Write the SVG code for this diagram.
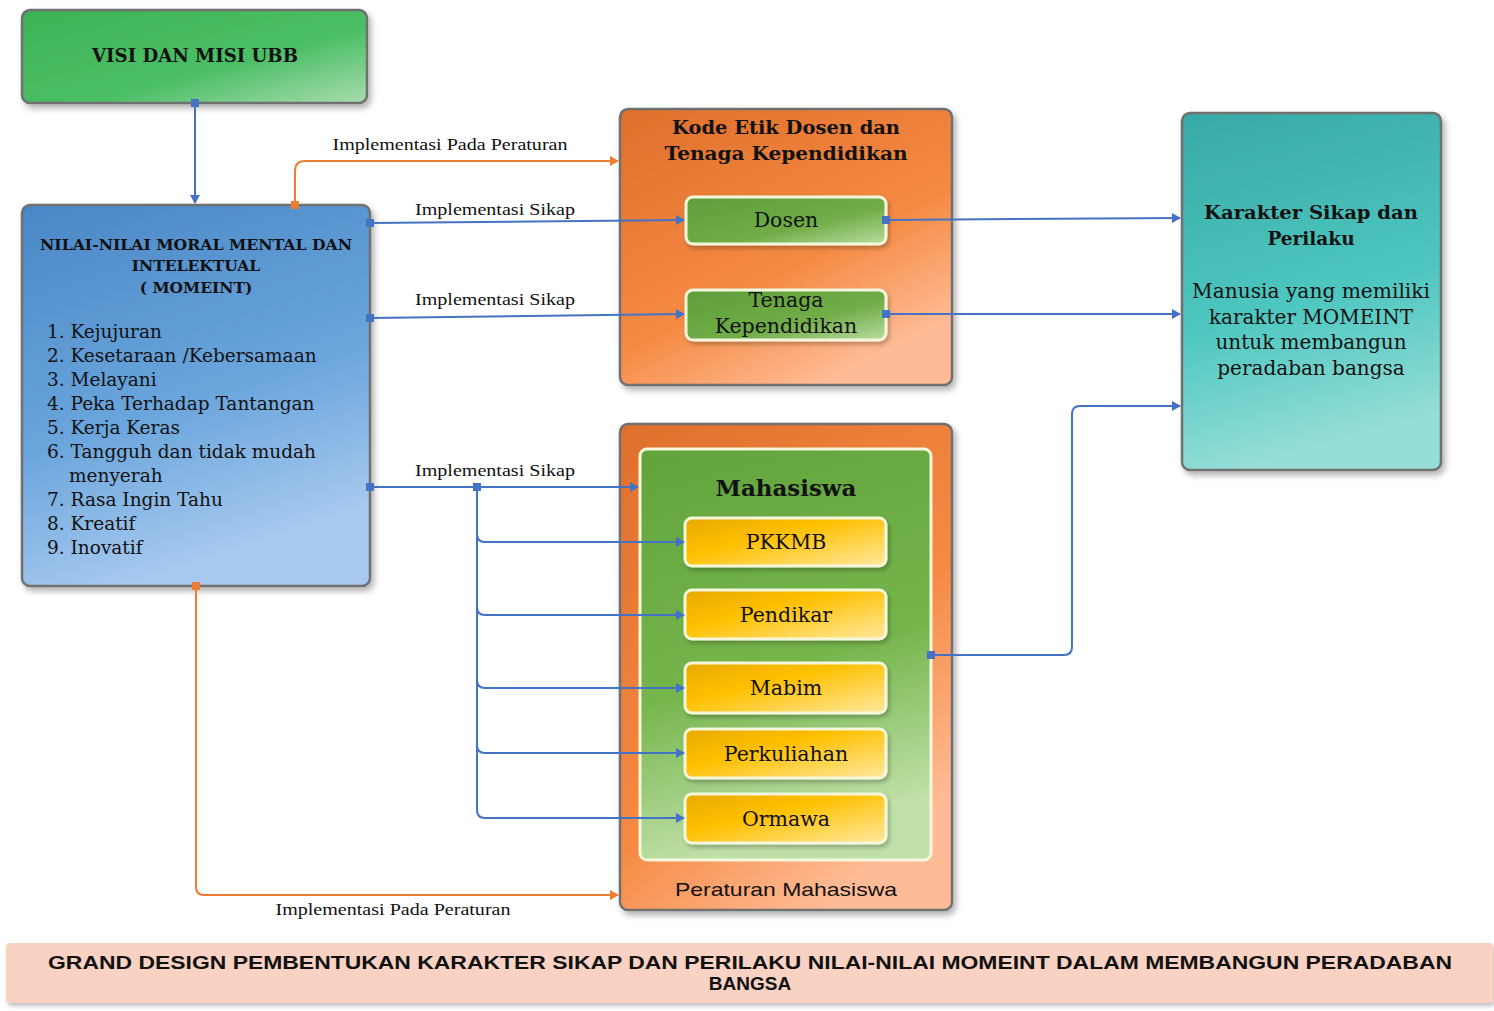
<svg xmlns="http://www.w3.org/2000/svg" width="1494" height="1011" viewBox="0 0 1494 1011">
<defs>
<style>
.box{stroke:#6f6f6f;stroke-width:2.5}
.inner{stroke:#f4f7dc;stroke-width:3}
.t{font-family:"DejaVu Serif","Liberation Serif",serif;fill:#111;text-anchor:middle}
.tb{font-family:"DejaVu Serif","Liberation Serif",serif;font-weight:bold;fill:#111;text-anchor:middle}
.lab{font-family:"Liberation Serif","Times New Roman",serif;font-size:17px;fill:#111;text-anchor:middle}
.li{font-family:"DejaVu Serif","Liberation Serif",serif;font-size:18.5px;fill:#111}
.cb{fill:none;stroke:#4472c4;stroke-width:2}
.co{fill:none;stroke:#ed7d31;stroke-width:2}
</style>
<linearGradient id="gGreen" x1="0" y1="0" x2="1" y2="1"><stop offset="0" stop-color="#3db257"/><stop offset="0.6" stop-color="#4cbf66"/><stop offset="1" stop-color="#a8dcae"/></linearGradient>
<linearGradient id="gBlue" x1="0" y1="0" x2="0.3" y2="1"><stop offset="0" stop-color="#4a87c6"/><stop offset="0.6" stop-color="#6aa5dc"/><stop offset="1" stop-color="#a7c9ef"/></linearGradient>
<linearGradient id="gOrange" x1="0" y1="0" x2="0.6" y2="1"><stop offset="0" stop-color="#df6f2c"/><stop offset="0.65" stop-color="#f58a43"/><stop offset="1" stop-color="#ffbb95"/></linearGradient>
<linearGradient id="gTeal" x1="0" y1="0" x2="0.2" y2="1"><stop offset="0" stop-color="#38a9a6"/><stop offset="0.6" stop-color="#4ec7c0"/><stop offset="1" stop-color="#95ddd7"/></linearGradient>
<linearGradient id="gSmall" x1="0" y1="0" x2="1" y2="1"><stop offset="0" stop-color="#5e9e3a"/><stop offset="0.6" stop-color="#70ad47"/><stop offset="1" stop-color="#b9dca0"/></linearGradient>
<linearGradient id="gInner" x1="0" y1="0" x2="0.2" y2="1"><stop offset="0" stop-color="#62a33c"/><stop offset="0.6" stop-color="#76b54c"/><stop offset="1" stop-color="#bfe0a8"/></linearGradient>
<linearGradient id="gYellow" x1="0" y1="0" x2="1" y2="1"><stop offset="0" stop-color="#e9a900"/><stop offset="0.4" stop-color="#ffc000"/><stop offset="1" stop-color="#ffe9a0"/></linearGradient>
<filter id="sh" x="-10%" y="-10%" width="125%" height="125%"><feDropShadow dx="3" dy="4" stdDeviation="3" flood-color="#000" flood-opacity="0.3"/></filter>
<filter id="sh2" x="-10%" y="-10%" width="125%" height="130%"><feDropShadow dx="2" dy="3" stdDeviation="2" flood-color="#000" flood-opacity="0.25"/></filter>
<marker id="aB" markerWidth="10" markerHeight="10" refX="8" refY="5" orient="auto" markerUnits="userSpaceOnUse"><path d="M0,0 L9,5 L0,10 z" fill="#4472c4"/></marker>
<marker id="aO" markerWidth="10" markerHeight="10" refX="8" refY="5" orient="auto" markerUnits="userSpaceOnUse"><path d="M0,0 L9,5 L0,10 z" fill="#ed7d31"/></marker>
<marker id="sB" markerWidth="8" markerHeight="8" refX="4" refY="4" orient="auto" markerUnits="userSpaceOnUse"><rect x="0" y="0" width="8" height="8" fill="#4472c4"/></marker>
<marker id="sO" markerWidth="8" markerHeight="8" refX="4" refY="4" orient="auto" markerUnits="userSpaceOnUse"><rect x="0" y="0" width="8" height="8" fill="#ed7d31"/></marker>
</defs>
<rect width="1494" height="1011" fill="#ffffff"/>

<g id="visi">
<rect class="box" x="22" y="10" width="345" height="93" rx="8" fill="url(#gGreen)" filter="url(#sh)"/>
<text class="tb" x="195" y="62" font-size="18" textLength="206" lengthAdjust="spacingAndGlyphs">VISI DAN MISI UBB</text>
</g>

<g id="nilai">
<rect class="box" x="22" y="205" width="348" height="381" rx="8" fill="url(#gBlue)" filter="url(#sh)"/>
<text class="tb" font-size="15.5"><tspan x="196" y="250" textLength="312" lengthAdjust="spacingAndGlyphs">NILAI-NILAI MORAL MENTAL DAN</tspan><tspan x="196" y="271">INTELEKTUAL</tspan><tspan x="196" y="293">( MOMEINT)</tspan></text>
<text class="li"><tspan x="47" y="338">1. Kejujuran</tspan><tspan x="47" y="362">2. Kesetaraan /Kebersamaan</tspan><tspan x="47" y="386">3. Melayani</tspan><tspan x="47" y="410">4. Peka Terhadap Tantangan</tspan><tspan x="47" y="434">5. Kerja Keras</tspan><tspan x="47" y="458">6. Tangguh dan tidak mudah</tspan><tspan x="69" y="482">menyerah</tspan><tspan x="47" y="506">7. Rasa Ingin Tahu</tspan><tspan x="47" y="530">8. Kreatif</tspan><tspan x="47" y="554">9. Inovatif</tspan></text>
</g>

<g id="kode-etik">
<rect class="box" x="620" y="109" width="332" height="276" rx="8" fill="url(#gOrange)" filter="url(#sh)"/>
<text class="tb" font-size="19"><tspan x="786" y="134" textLength="228" lengthAdjust="spacingAndGlyphs">Kode Etik Dosen dan</tspan><tspan x="786" y="160" textLength="243" lengthAdjust="spacingAndGlyphs">Tenaga Kependidikan</tspan></text>
</g>

<g id="dosen">
<rect class="inner" x="686" y="197" width="200" height="47" rx="7" fill="url(#gSmall)" filter="url(#sh2)"/>
<text class="t" x="786" y="227" font-size="20.5">Dosen</text>
</g>

<g id="tenaga">
<rect class="inner" x="686" y="290" width="200" height="50" rx="7" fill="url(#gSmall)" filter="url(#sh2)"/>
<text class="t" font-size="20.5"><tspan x="786" y="307">Tenaga</tspan><tspan x="786" y="333">Kependidikan</tspan></text>
</g>

<g id="karakter">
<rect class="box" x="1182" y="113" width="259" height="357" rx="8" fill="url(#gTeal)" filter="url(#sh)"/>
<text class="tb" font-size="18.5"><tspan x="1311" y="219" textLength="214" lengthAdjust="spacingAndGlyphs">Karakter Sikap dan</tspan><tspan x="1311" y="245">Perilaku</tspan></text>
<text class="t" font-size="20"><tspan x="1311" y="298" textLength="238" lengthAdjust="spacingAndGlyphs">Manusia yang memiliki</tspan><tspan x="1311" y="324">karakter MOMEINT</tspan><tspan x="1311" y="349">untuk membangun</tspan><tspan x="1311" y="375">peradaban bangsa</tspan></text>
</g>

<g id="peraturan-mahasiswa">
<rect class="box" x="620" y="424" width="332" height="486" rx="8" fill="url(#gOrange)" filter="url(#sh)"/>
<text x="786" y="896" font-family="'Liberation Sans',Arial,sans-serif" font-size="19" fill="#111" text-anchor="middle" textLength="222" lengthAdjust="spacingAndGlyphs">Peraturan Mahasiswa</text>
</g>

<g id="mahasiswa">
<rect class="inner" x="640" y="449" width="291" height="411" rx="7" fill="url(#gInner)"/>
<text class="tb" x="786" y="496" font-size="22" textLength="141" lengthAdjust="spacingAndGlyphs">Mahasiswa</text>
</g>

<g id="pkkmb">
<rect class="inner" x="685" y="518" width="201" height="48" rx="7" fill="url(#gYellow)" filter="url(#sh2)"/>
<text class="t" x="786" y="549" font-size="20.5">PKKMB</text>
</g>
<g id="pendikar">
<rect class="inner" x="685" y="590" width="201" height="49" rx="7" fill="url(#gYellow)" filter="url(#sh2)"/>
<text class="t" x="786" y="622" font-size="20.5">Pendikar</text>
</g>
<g id="mabim">
<rect class="inner" x="685" y="663" width="201" height="50" rx="7" fill="url(#gYellow)" filter="url(#sh2)"/>
<text class="t" x="786" y="695" font-size="20.5">Mabim</text>
</g>
<g id="perkuliahan">
<rect class="inner" x="685" y="729" width="201" height="49" rx="7" fill="url(#gYellow)" filter="url(#sh2)"/>
<text class="t" x="786" y="761" font-size="20.5">Perkuliahan</text>
</g>
<g id="ormawa">
<rect class="inner" x="685" y="794" width="201" height="49" rx="7" fill="url(#gYellow)" filter="url(#sh2)"/>
<text class="t" x="786" y="826" font-size="20.5">Ormawa</text>
</g>

<g id="banner">
<rect x="6" y="943" width="1487" height="60" rx="4" fill="#f9d2c3" filter="url(#sh2)"/>
<text font-family="'Liberation Sans',Arial,sans-serif" font-weight="bold" font-size="19" fill="#111" text-anchor="middle"><tspan x="750" y="969" textLength="1404" lengthAdjust="spacingAndGlyphs">GRAND DESIGN PEMBENTUKAN KARAKTER SIKAP DAN PERILAKU NILAI-NILAI MOMEINT DALAM MEMBANGUN PERADABAN</tspan><tspan x="750" y="990">BANGSA</tspan></text>
</g>

<g id="connectors">
<path class="cb" d="M195,103 L195,203" marker-start="url(#sB)" marker-end="url(#aB)"/>
<path class="co" d="M295,205 L295,171 Q295,161 305,161 L618,161" marker-start="url(#sO)" marker-end="url(#aO)"/>
<path class="cb" d="M370,223 L684,220" marker-start="url(#sB)" marker-end="url(#aB)"/>
<path class="cb" d="M370,318 L684,314" marker-start="url(#sB)" marker-end="url(#aB)"/>
<path class="cb" d="M370,487 L638,487" marker-start="url(#sB)" marker-end="url(#aB)"/>
<rect x="473" y="483" width="8" height="8" fill="#4472c4"/>
<path class="cb" d="M477,487 L477,810 Q477,818 485,818 L684,818" marker-end="url(#aB)"/>
<path class="cb" d="M477,534 Q477,542 485,542 L684,542" marker-end="url(#aB)"/>
<path class="cb" d="M477,607 Q477,615 485,615 L684,615" marker-end="url(#aB)"/>
<path class="cb" d="M477,680 Q477,688 485,688 L684,688" marker-end="url(#aB)"/>
<path class="cb" d="M477,745 Q477,753 485,753 L684,753" marker-end="url(#aB)"/>
<path class="cb" d="M886,220 L1180,218" marker-start="url(#sB)" marker-end="url(#aB)"/>
<path class="cb" d="M886,314 L1180,314" marker-start="url(#sB)" marker-end="url(#aB)"/>
<path class="cb" d="M931,655 L1064,655 Q1072,655 1072,647 L1072,414 Q1072,406 1080,406 L1180,406" marker-start="url(#sB)" marker-end="url(#aB)"/>
<path class="co" d="M196,586 L196,887 Q196,895 204,895 L618,895" marker-start="url(#sO)" marker-end="url(#aO)"/>
<text class="lab" x="450" y="150" textLength="235" lengthAdjust="spacingAndGlyphs">Implementasi Pada Peraturan</text>
<text class="lab" x="495" y="215" textLength="160" lengthAdjust="spacingAndGlyphs">Implementasi Sikap</text>
<text class="lab" x="495" y="305" textLength="160" lengthAdjust="spacingAndGlyphs">Implementasi Sikap</text>
<text class="lab" x="495" y="476" textLength="160" lengthAdjust="spacingAndGlyphs">Implementasi Sikap</text>
<text class="lab" x="393" y="915" textLength="235" lengthAdjust="spacingAndGlyphs">Implementasi Pada Peraturan</text>
</g>
</svg>
